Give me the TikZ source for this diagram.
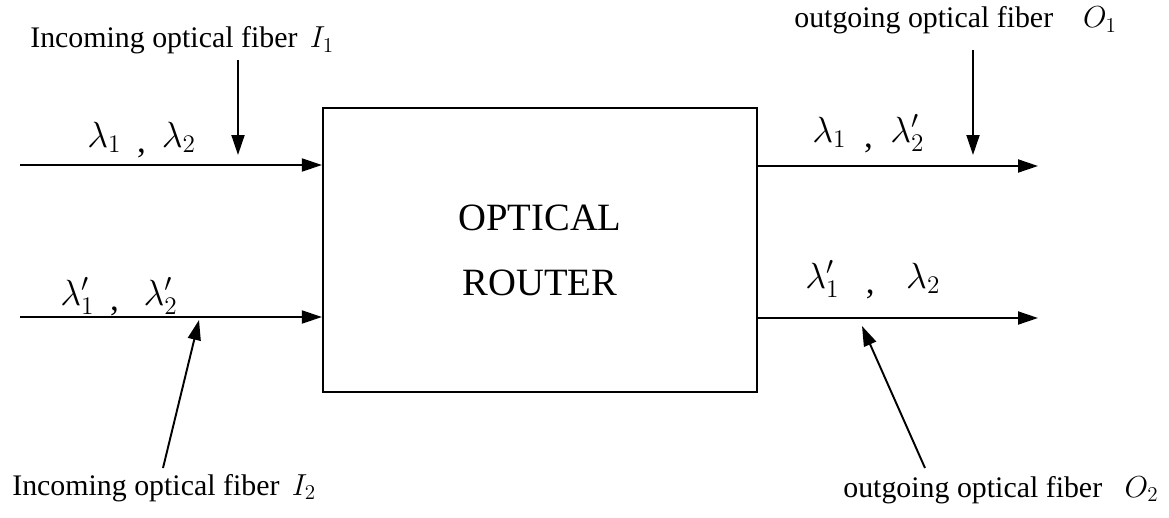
\documentclass[tikz,border=0pt]{standalone}
\usepackage{fontspec}
\setmainfont{Liberation Serif}
\usetikzlibrary{arrows.meta}

\begin{document}
\begin{tikzpicture}[
  x=0.02cm, y=-0.02cm,
  router/.style={draw, line width=1.3pt, minimum width=8.68cm,
    minimum height=5.68cm, align=center,
    font=\fontsize{22}{37}\selectfont},
  fiberlbl/.style={anchor=base west, inner sep=0pt,
    font=\fontsize{17}{20}\selectfont},
  lamlbl/.style={anchor=base west, inner sep=0pt,
    font=\fontsize{20}{22}\selectfont},
  arw/.style={-{Triangle[length=4mm, width=2.6mm]}, line width=1.1pt},
]
\useasboundingbox (0,0) rectangle (1169,517);

% Router
\node[router] (router) at (540,250) {OPTICAL\\ROUTER};

% Fibre ends
\coordinate (in1) at (20,165);
\coordinate (in2) at (20,317);
\coordinate (out1) at (1038,166);
\coordinate (out2) at (1038,318);

% Fibres
\draw[arw] (in1) -- (in1 -| router.west);
\draw[arw] (in2) -- (in2 -| router.west);
\draw[arw] (out1 -| router.east) -- (out1);
\draw[arw] (out2 -| router.east) -- (out2);

% Wavelengths
\node[lamlbl] (lamI1) at (87,147)
  {$\lambda_1$\hspace{9pt}\raisebox{-3pt}{,}\hspace{9pt}$\lambda_2$};
\node[lamlbl] (lamI2) at (60,305)
  {$\lambda'_1$\hspace{9pt}\raisebox{-3pt}{,}\hspace{14pt}$\lambda'_2$};
\node[lamlbl] (lamO1) at (812,142)
  {$\lambda_1$\hspace{10pt}\raisebox{-3pt}{,}\hspace{10pt}$\lambda'_2$};
\node[lamlbl] (lamO2) at (805,288)
  {$\lambda'_1$\hspace{15pt}\raisebox{-3pt}{,}\hspace{18pt}$\lambda_2$};

% Fibre names
\node[fiberlbl] (nameI1) at (30,48) {Incoming optical fiber\, $I_1$};
\node[fiberlbl] (nameI2) at (12,495) {Incoming optical fiber\, $I_2$};
\node[fiberlbl] (nameO1) at (794,28) {outgoing optical fiber\quad $O_1$};
\node[fiberlbl] (nameO2) at (843,497) {outgoing optical fiber\enspace\ $O_2$};

% Pointers
\coordinate (pI1a) at (238,60);   \coordinate (pI1b) at (238,155);
\coordinate (pI2a) at (163,468);  \coordinate (pI2b) at (199,320);
\coordinate (pO1a) at (973,50);   \coordinate (pO1b) at (973,155);
\coordinate (pO2a) at (925,468);  \coordinate (pO2b) at (862,326);
\draw[arw] (pI1a) -- (pI1b);
\draw[arw] (pI2a) -- (pI2b);
\draw[arw] (pO1a) -- (pO1b);
\draw[arw] (pO2a) -- (pO2b);
\end{tikzpicture}
\end{document}
